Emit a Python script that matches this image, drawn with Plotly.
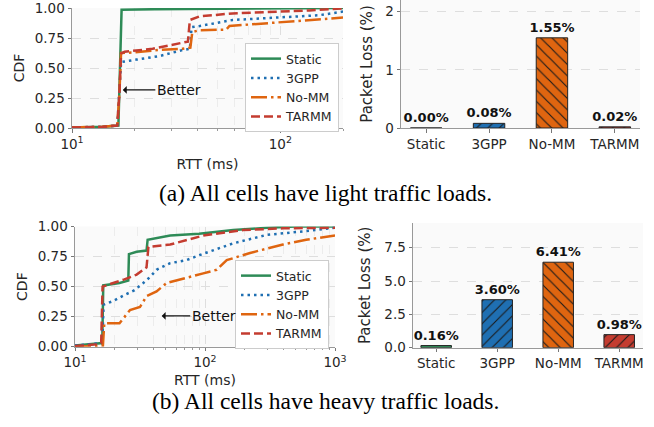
import plotly.graph_objects as go

# ---------------- data ----------------
categories = ["Static", "3GPP", "No-MM", "TARMM"]
loss_a = [0.00, 0.08, 1.55, 0.02]
loss_b = [0.16, 3.60, 6.41, 0.98]

# (a) light traffic: RTT (ms) / CDF points
rtt_a_static = [10, 14, 16.7, 17.0, 17.3, 25, 50, 100, 200]
cdf_a_static = [0.005, 0.01, 0.02, 0.50, 0.985, 0.99, 0.995, 0.998, 1.0]
rtt_a_3gpp = [10, 14, 16.5, 16.9, 17.2, 20.4, 26.4, 34, 36.8, 37.5, 41, 59, 102, 154, 200]
cdf_a_3gpp = [0.005, 0.01, 0.02, 0.30, 0.55, 0.57, 0.60, 0.65, 0.66, 0.84, 0.85, 0.90, 0.92, 0.94, 0.97]
rtt_a_nomm = [10, 14, 16.5, 16.9, 17.2, 20, 26, 34, 37, 37.8, 41, 55, 57, 100, 150, 200]
cdf_a_nomm = [0.005, 0.01, 0.02, 0.30, 0.625, 0.63, 0.65, 0.66, 0.67, 0.80, 0.815, 0.82, 0.85, 0.88, 0.90, 0.92]
rtt_a_tarmm = [10, 14, 16.5, 16.9, 17.2, 17.9, 24.4, 32.9, 36, 36.8, 41, 59, 102, 138, 200]
cdf_a_tarmm = [0.005, 0.01, 0.02, 0.30, 0.62, 0.636, 0.66, 0.705, 0.72, 0.90, 0.93, 0.955, 0.97, 0.98, 0.997]

# (b) heavy traffic
rtt_b_static = [10, 14, 16.2, 16.5, 22, 25.7, 26, 29.8, 35.5, 36.2, 54, 90, 165, 300, 500, 1000]
cdf_b_static = [0.01, 0.02, 0.03, 0.51, 0.53, 0.55, 0.77, 0.79, 0.80, 0.89, 0.925, 0.94, 0.97, 0.99, 1.0, 1.0]
rtt_b_3gpp = [10, 14, 16.2, 16.6, 19.7, 24, 28.7, 33.5, 37.8, 42.4, 54, 72, 95, 165, 298, 642, 1000]
cdf_b_3gpp = [0.01, 0.02, 0.03, 0.35, 0.38, 0.43, 0.47, 0.53, 0.58, 0.64, 0.695, 0.72, 0.77, 0.86, 0.93, 0.965, 0.99]
rtt_b_nomm = [10, 14, 16.4, 16.8, 22, 26.5, 31.6, 35.5, 42.4, 50.7, 72, 97, 123, 147, 222, 398, 600, 1000]
cdf_b_nomm = [0.0, 0.005, 0.01, 0.195, 0.195, 0.305, 0.33, 0.42, 0.46, 0.53, 0.57, 0.61, 0.64, 0.72, 0.78, 0.85, 0.89, 0.925]
rtt_b_tarmm = [10, 15, 15.9, 16.3, 19.7, 24, 29.8, 33.5, 35.5, 36.7, 54, 97, 196, 400, 1000]
cdf_b_tarmm = [0.005, 0.02, 0.03, 0.50, 0.53, 0.56, 0.60, 0.64, 0.66, 0.83, 0.85, 0.925, 0.97, 0.985, 0.99]

colors = {"Static": "#2e8b57", "3GPP": "#1f6fb2", "No-MM": "#df6510", "TARMM": "#c43c30"}
dashes = {"Static": "solid", "3GPP": "2.5px,4px", "No-MM": "16px,4px,2.5px,4px", "TARMM": "9px,4px"}
patterns = {"Static": "", "3GPP": "/", "No-MM": "\\", "TARMM": "/"}

W, H = 654, 427
def px(x0, x1):
    return [x0 / W, x1 / W]
def py(y_top, y_bot):
    return [1 - y_bot / H, 1 - y_top / H]

FONT = "DejaVu Sans"
TXT = "#262626"

fig = go.Figure()

series_a = [("Static", rtt_a_static, cdf_a_static), ("3GPP", rtt_a_3gpp, cdf_a_3gpp),
            ("No-MM", rtt_a_nomm, cdf_a_nomm), ("TARMM", rtt_a_tarmm, cdf_a_tarmm)]
series_b = [("Static", rtt_b_static, cdf_b_static), ("3GPP", rtt_b_3gpp, cdf_b_3gpp),
            ("No-MM", rtt_b_nomm, cdf_b_nomm), ("TARMM", rtt_b_tarmm, cdf_b_tarmm)]

for name, xs, ys in series_a:
    fig.add_trace(go.Scatter(x=xs, y=ys, mode="lines", name=name, xaxis="x", yaxis="y",
                             line=dict(color=colors[name], width=2.5, dash=dashes[name]),
                             legend="legend"))
for name, xs, ys in series_b:
    fig.add_trace(go.Scatter(x=xs, y=ys, mode="lines", name=name, xaxis="x3", yaxis="y3",
                             line=dict(color=colors[name], width=2.5, dash=dashes[name]),
                             legend="legend2"))

for vals, xa, ya in [(loss_a, "x2", "y2"), (loss_b, "x4", "y4")]:
    for cat, v in zip(categories, vals):
        fig.add_trace(go.Bar(x=[cat], y=[v], xaxis=xa, yaxis=ya, width=0.5,
                             marker=dict(color=colors[cat], line=dict(color="#222", width=1),
                                         pattern=dict(shape=patterns[cat], fillmode="overlay",
                                                      fgcolor="#1a1a1a", fgopacity=1,
                                                      size=8, solidity=0.14)),
                             text=[f"<b>{v:.2f}%</b>"], textposition="outside",
                             constraintext="none",
                             textfont=dict(family=FONT, size=13, color="#111"),
                             cliponaxis=False, showlegend=False))

grid = dict(showgrid=True, gridcolor="#dedede", griddash="dash", gridwidth=0.8)
axl = dict(showline=True, linecolor="#999", linewidth=1, ticks="outside", ticklen=3.5,
           tickcolor="#777", tickfont=dict(family=FONT, size=13.5, color=TXT), zeroline=False,
           automargin=False, ticklabeloverflow="allow")

minor_a = [20, 30, 40, 50, 60, 70, 80, 90, 200]
minor_b = [20, 30, 40, 50, 60, 70, 80, 90, 200, 300, 400, 500, 600, 700, 800, 900]
minor_style = dict(ticks="outside", ticklen=2, tickcolor="#999", showgrid=True,
                   gridcolor="#ececec", griddash="dash", gridwidth=0.6, tickmode="array")

fig.update_layout(
    width=W, height=H, margin=dict(l=0, r=0, t=0, b=0, autoexpand=False),
    paper_bgcolor="white", plot_bgcolor="#fafafa",
    font=dict(family=FONT, color=TXT),
    barmode="overlay",
    xaxis=dict(domain=px(72, 343), type="log", range=[1, 2.301], anchor="y",
               tickvals=[10, 100], ticktext=["10<sup>1</sup>", "10<sup>2</sup>"],
               minor=dict(tickvals=minor_a, **minor_style),
               title=dict(text="RTT (ms)", font=dict(size=14), standoff=8), **grid, **axl),
    yaxis=dict(domain=py(8, 128), range=[0, 1], anchor="x", tickvals=[0, 0.25, 0.5, 0.75, 1.0],
               tickformat=".2f", title=dict(text="CDF", font=dict(size=14), standoff=6), **grid, **axl),
    xaxis2=dict(domain=px(401, 640), range=[-0.4, 3.4], anchor="y2", type="category",
                categoryorder="array", categoryarray=categories, showgrid=False, **axl),
    yaxis2=dict(domain=py(0, 128), range=[0, 2.2], anchor="x2", dtick=1,
                title=dict(text="Packet Loss (%)", font=dict(size=15), standoff=8), **grid, **axl),
    xaxis3=dict(domain=px(75, 335), type="log", range=[1, 3], anchor="y3",
                tickvals=[10, 100, 1000], ticktext=["10<sup>1</sup>", "10<sup>2</sup>", "10<sup>3</sup>"],
                minor=dict(tickvals=minor_b, **minor_style),
                title=dict(text="RTT (ms)", font=dict(size=14), standoff=5), **grid, **axl),
    yaxis3=dict(domain=py(226.5, 346.7), range=[0, 1], anchor="x3", tickvals=[0, 0.25, 0.5, 0.75, 1.0],
                tickformat=".2f", title=dict(text="CDF", font=dict(size=14), standoff=6), **grid, **axl),
    xaxis4=dict(domain=px(413, 643), range=[-0.38, 3.39], anchor="y4", type="category",
                categoryorder="array", categoryarray=categories, showgrid=False, **axl),
    yaxis4=dict(domain=py(223, 347.7), range=[0, 9.35], anchor="x4", tickvals=[0, 2.5, 5, 7.5],
                tickformat=".1f",
                title=dict(text="Packet Loss (%)", font=dict(size=15), standoff=10), **grid, **axl),
    legend=dict(x=245 / W, y=1 - 43 / H, xanchor="left", yanchor="top", bgcolor="white",
                bordercolor="#cccccc", borderwidth=1, font=dict(size=12.5, family=FONT, color=TXT),
                itemwidth=30, tracegroupgap=0),
    legend2=dict(x=235 / W, y=1 - 260 / H, xanchor="left", yanchor="top", bgcolor="white",
                 bordercolor="#cccccc", borderwidth=1, font=dict(size=12.5, family=FONT, color=TXT),
                 itemwidth=30, tracegroupgap=0),
)

# "Better" arrows
fig.add_annotation(x=1.244, y=0.317, xref="x", yref="y", text="Better", showarrow=True,
                   ax=56, ay=0, arrowhead=1, arrowsize=1, arrowwidth=1.3, arrowcolor="#111",
                   font=dict(size=14, family=FONT, color="#111"))
fig.add_annotation(x=1.667, y=0.256, xref="x3", yref="y3", text="Better", showarrow=True,
                   ax=52, ay=0, arrowhead=1, arrowsize=1, arrowwidth=1.3, arrowcolor="#111",
                   font=dict(size=14, family=FONT, color="#111"))

# captions
fig.add_annotation(x=0.4977, y=1 - 193 / H, xref="paper", yref="paper", showarrow=False,
                   xanchor="center", yanchor="middle",
                   text="(a) All cells have light traffic loads.",
                   font=dict(family="Liberation Serif", size=23.5, color="black"))
fig.add_annotation(x=0.498, y=1 - 401 / H, xref="paper", yref="paper", showarrow=False,
                   xanchor="center", yanchor="middle",
                   text="(b) All cells have heavy traffic loads.",
                   font=dict(family="Liberation Serif", size=23.5, color="black"))

fig.write_html("out.html")
